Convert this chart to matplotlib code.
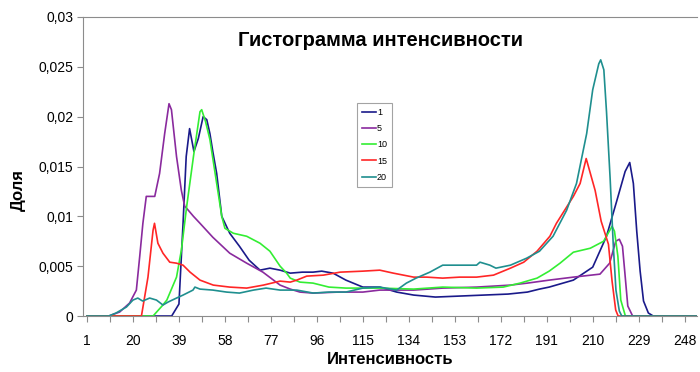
import matplotlib
matplotlib.use("Agg")
import matplotlib.pyplot as plt
from matplotlib.ticker import FixedLocator, FixedFormatter

plt.rcParams['font.family'] = ['Liberation Sans', 'DejaVu Sans']

# ---- data (intensity, share) ----
x1 = [1, 36, 39, 40.7, 42, 43.4, 45.2, 47, 49, 50.5, 51.8, 53, 54.6, 56.7, 60, 64, 68, 72.5, 76.6,
      80.8, 85, 90, 94.4, 98, 102.7, 108, 115, 122, 129, 136, 145, 155, 165, 175, 183, 188, 192,
      202, 210, 215.7, 220, 223.4, 225.3, 226.8, 228.2, 229.6, 231, 233, 235, 256]
y1 = [0, 0, .0012, .0093, .016, .0188, .0165, .0178, .0200, .0197, .0183, .0165, .0143, .0100,
      .0083, .0070, .0056, .0046, .0048, .0046, .0043, .0044, .0044, .0045, .0043, .0036, .0029,
      .0029, .0024, .0021, .0019, .0020, .0021, .0022, .0024, .0027, .0029, .0036, .0049, .0080,
      .0116, .0145, .0154, .0133, .0085, .0045, .0015, .0003, 0, 0]

x5 = [1, 10, 14.5, 18.6, 21.4, 22.8, 24.1, 25.5, 29, 31, 33.1, 34.9, 35.9, 38, 40, 41.4, 42.2, 45,
      47.7, 53, 60, 67, 73.7, 80.8, 85, 89, 94.4, 105, 115, 122, 136, 148, 162, 176, 183, 192,
      202, 213, 217, 219.5, 221, 222.3, 223.3, 224.5, 226.5, 256]
y5 = [0, 0, .0004, .0013, .0026, .0060, .0093, .0120, .0120, .0143, .0183, .0213, .0207, .0160,
      .0126, .0110, .0108, .0100, .0093, .0079, .0063, .0053, .0044, .0031, .0027, .0024, .0023,
      .0024, .0024, .0026, .0026, .0028, .0029, .0031, .0033, .0036, .0039, .0042, .0053, .0075,
      .0077, .0070, .0043, .0010, 0, 0]

x10 = [1, 28.3, 32, 34, 38, 40, 42.2, 45, 47.7, 48.4, 50, 51.8, 54.6, 56.7, 58, 61.5, 67, 72.5,
       76.6, 78, 80.8, 83.5, 85, 89, 94.4, 101, 108, 122, 136, 148, 162, 173, 180, 187, 192,
       196.5, 202, 209, 214.5, 218, 219, 220.4, 221.6, 223.5, 256]
y10 = [0, 0, .0010, .0016, .0039, .0066, .0110, .0160, .0205, .0207, .0195, .0177, .0133, .0100,
       .0088, .0083, .0080, .0073, .0065, .0060, .0050, .0043, .0038, .0034, .0033, .0029, .0028,
       .0028, .0027, .0029, .0028, .0029, .0033, .0038, .0045, .0053, .0064, .0068, .0075, .0090,
       .0085, .0060, .0016, 0, 0]

x15 = [1, 23.5, 26.2, 28.3, 28.9, 30.3, 32.4, 35.2, 38, 40.7, 43.6, 47.7, 53.2, 60, 67, 73.9, 80.8,
       85, 87.7, 91.8, 98.7, 105.6, 115, 122, 127.6, 136, 141.4, 148, 155, 162, 169, 176, 181.5,
       187, 192.3, 195, 202, 204.8, 207.3, 211, 213.5, 216.5, 218, 219.5, 220.5, 256]
y15 = [0, 0, .0039, .0086, .0093, .0073, .0063, .0054, .0053, .0051, .0044, .0036, .0031, .0029,
       .0028, .0031, .0035, .0034, .0036, .0040, .0041, .0044, .0045, .0046, .0043, .0039, .0039,
       .0038, .0039, .0039, .0041, .0048, .0054, .0065, .0080, .0093, .0120, .0133, .0158, .0126,
       .0095, .0072, .0035, .0006, 0, 0]

x20 = [1, 10, 13, 17.3, 20, 22, 24, 26.9, 29.7, 32.4, 34.5, 38, 40.7, 44.8, 45.6, 47.7, 53, 58.7,
       64, 69.8, 75, 80.8, 87.7, 94.5, 101, 108, 115, 122, 129, 133, 137, 142.7, 148, 155, 162,
       163.4, 167.5, 170, 176, 182.7, 188, 193.6, 199.2, 203.3, 207.5, 210, 212.5, 213.3, 214.6,
       215.7, 217.2, 218.5, 219.6, 221, 222, 256]
y20 = [0, 0, .0003, .0009, .0016, .0018, .0015, .0018, .0016, .0011, .0014, .0018, .0021, .0026,
       .0029, .0027, .0026, .0024, .0023, .0026, .0028, .0026, .0026, .0023, .0024, .0024, .0028,
       .0029, .0026, .0033, .0038, .0044, .0051, .0051, .0051, .0054, .0051, .0048, .0051, .0058,
       .0065, .0080, .0106, .0133, .0183, .0227, .0253, .0257, .0247, .0205, .0138, .0071, .0026,
       .0005, 0, 0]

series_labels = ['1', '5', '10', '15', '20']
colors = ['#1a1a8a', '#8a2a9e', '#33ee33', '#ff2626', '#1f8f8f']

xtick_vals = [1, 20, 39, 58, 77, 96, 115, 134, 153, 172, 191, 210, 229, 248]
ytick_vals = [0, 0.005, 0.01, 0.015, 0.02, 0.025, 0.03]
ytick_labels = ['0', '0,005', '0,01', '0,015', '0,02', '0,025', '0,03']

title = 'Гистограмма интенсивности'
xlabel = 'Интенсивность'
ylabel = 'Доля'

# ---- figure ----
W, H = 700, 372
fig = plt.figure(figsize=(W / 100, H / 100), dpi=100)
ax = fig.add_axes([83 / W, (H - 316) / H, 614 / W, 299 / H])

for xs, ys, lab, c in zip([x1, x5, x10, x15, x20], [y1, y5, y10, y15, y20], series_labels, colors):
    ax.plot(xs, ys, color=c, lw=1.2, label=lab, solid_joinstyle='round')

ax.set_xlim(-0.65, 253.1)
ax.set_ylim(0, 0.03)

grey = '#8c8c8c'
for s in ['left', 'bottom', 'top']:
    ax.spines[s].set_color(grey)
    ax.spines[s].set_linewidth(0.8)
ax.spines['right'].set_visible(False)

ax.xaxis.set_major_locator(FixedLocator(xtick_vals))
ax.xaxis.set_major_formatter(FixedFormatter([str(v) for v in xtick_vals]))
ax.xaxis.set_minor_locator(FixedLocator([v + 9.5 for v in xtick_vals]))
ax.yaxis.set_major_locator(FixedLocator(ytick_vals))
ax.yaxis.set_major_formatter(FixedFormatter(ytick_labels))

ax.tick_params(axis='x', which='both', direction='out', length=4, width=0.8, color=grey,
               labelsize=10, pad=9)
ax.tick_params(axis='y', which='major', direction='out', length=4, width=0.8, color=grey,
               labelsize=10, pad=3)

leg = ax.legend(loc='upper left', bbox_to_anchor=((357 - 83) / 614, (316 - 103) / 299),
                fontsize=6.5, frameon=True, fancybox=False, handlelength=1.5,
                handletextpad=0.15, labelspacing=0.8, borderpad=0.55, borderaxespad=0)
leg.get_frame().set_edgecolor(grey)
leg.get_frame().set_linewidth(0.8)

fig.text(381 / W, 1 - 40 / H, title, ha='center', va='center', fontsize=14.5, fontweight='bold')
fig.text(390 / W, 1 - 360 / H, xlabel, ha='center', va='center', fontsize=12, fontweight='bold')
fig.text(18 / W, 1 - 190 / H, ylabel, ha='center', va='center', fontsize=12,
         fontweight='bold', rotation=90)

fig.savefig('out.png', dpi=100)
